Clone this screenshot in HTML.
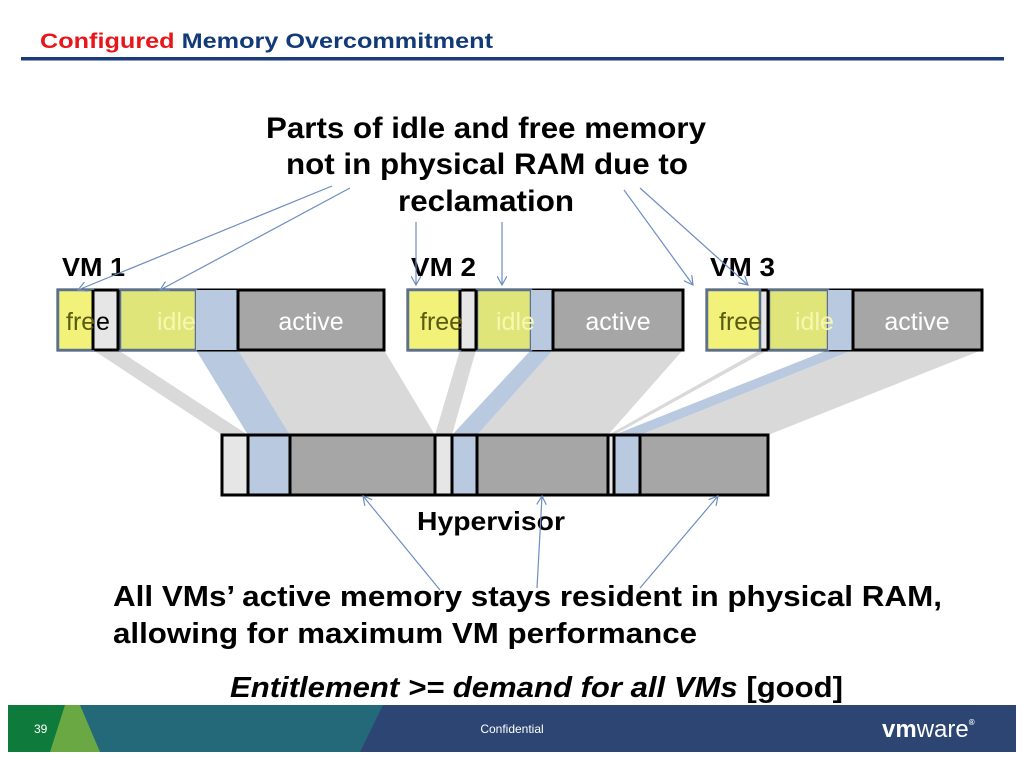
<!DOCTYPE html>
<html><head><meta charset="utf-8"><style>html,body{margin:0;padding:0;background:#fff}svg{display:block}</style></head>
<body>
<svg width="1024" height="768" viewBox="0 0 1024 768" xmlns="http://www.w3.org/2000/svg" font-family="Liberation Sans, Arial, sans-serif">
<defs><marker id="a" markerWidth="10" markerHeight="10" refX="9" refY="5" orient="auto" markerUnits="userSpaceOnUse"><path d="M0,0 L9,5 L0,10" fill="none" stroke="#6d8dc0" stroke-width="1.2"/></marker></defs>
<text x="40" y="48" font-size="21" font-weight="bold" textLength="453" lengthAdjust="spacingAndGlyphs"><tspan fill="#e8161b">Configured</tspan><tspan fill="#123a78"> Memory Overcommitment</tspan></text>
<rect x="21" y="57" width="983" height="3.5" fill="#1a3c78"/>
<g fill="#d9d9d9">
<polygon points="93,350 118,350 248,435 222,435"/>
<polygon points="238,350 384,350 435,435 290,435"/>
<polygon points="460,350 476,350 452,435 435,435"/>
<polygon points="553,350 683,350 608,435 477,435"/>
<polygon points="760,350 768,350 614,435 608,435"/>
<polygon points="853,350 982,350 768,435 640,435"/>
</g>
<g fill="#b8c9e0">
<polygon points="196,350 238,350 290,435 248,435"/>
<polygon points="531,350 553,350 477,435 452,435"/>
<polygon points="828,350 853,350 640,435 614,435"/>
</g>
<g stroke="#000" stroke-width="3">
<rect x="58" y="290" width="326" height="60" fill="#e6e6e6"/>
<rect x="408" y="290" width="275" height="60" fill="#e6e6e6"/>
<rect x="707" y="290" width="275" height="60" fill="#e6e6e6"/>
</g>
<g stroke="#5a7090" stroke-width="2.5">
<rect x="58" y="290" width="35" height="60" fill="#f2f27a"/>
<rect x="120" y="290" width="76" height="60" fill="#e0e57a"/>
<rect x="408" y="290" width="52" height="60" fill="#f2f27a"/>
<rect x="477" y="290" width="54" height="60" fill="#e0e57a"/>
<rect x="707" y="290" width="53" height="60" fill="#f2f27a"/>
<rect x="769" y="290" width="59" height="60" fill="#e0e57a"/>
</g>
<g stroke="#000" stroke-width="3">
<rect x="196" y="290" width="42" height="60" fill="#b8c9e0" stroke="none"/>
<rect x="238" y="290" width="146" height="60" fill="#a6a6a6"/>
<rect x="531" y="290" width="22" height="60" fill="#b8c9e0" stroke="none"/>
<rect x="553" y="290" width="130" height="60" fill="#a6a6a6"/>
<rect x="828" y="290" width="25" height="60" fill="#b8c9e0" stroke="none"/>
<rect x="853" y="290" width="129" height="60" fill="#a6a6a6"/>
<line x1="118" y1="290" x2="118" y2="350"/><line x1="93" y1="290" x2="93" y2="350"/>
<line x1="460" y1="290" x2="460" y2="350"/><line x1="476" y1="290" x2="476" y2="350"/>
<line x1="768" y1="290" x2="768" y2="350"/>
</g>
<g font-size="25" fill="#fff">
<text x="66" y="330" fill="#5a5a10">fre</text><text x="96" y="330" fill="#000">e</text>
<text x="157" y="330" fill="#f7f7b0">idle</text>
<text x="311" y="330" text-anchor="middle">active</text>
<text x="420" y="330" fill="#5a5a10">free</text>
<text x="496" y="330" fill="#f7f7b0">idle</text>
<text x="618" y="330" text-anchor="middle">active</text>
<text x="719" y="330" fill="#5a5a10">free</text>
<text x="795" y="330" fill="#f7f7b0">idle</text>
<text x="917" y="330" text-anchor="middle">active</text>
</g>
<g stroke="#000" stroke-width="3">
<rect x="222" y="435" width="546" height="60" fill="#a6a6a6"/>
<rect x="222" y="435" width="26" height="60" fill="#e6e6e6"/>
<rect x="248" y="435" width="42" height="60" fill="#b8c9e0"/>
<rect x="435" y="435" width="17" height="60" fill="#e6e6e6"/>
<rect x="452" y="435" width="25" height="60" fill="#b8c9e0"/>
<rect x="608" y="435" width="6" height="60" fill="#e6e6e6"/>
<rect x="614" y="435" width="26" height="60" fill="#b8c9e0"/>
</g>
<g font-weight="bold" fill="#000">
<text x="62" y="276" font-size="26" textLength="63" lengthAdjust="spacingAndGlyphs">VM 1</text>
<text x="411" y="276" font-size="26" textLength="65" lengthAdjust="spacingAndGlyphs">VM 2</text>
<text x="710" y="276" font-size="26" textLength="65" lengthAdjust="spacingAndGlyphs">VM 3</text>
<text x="266" y="138" font-size="30" textLength="440" lengthAdjust="spacingAndGlyphs">Parts of idle and free memory</text>
<text x="286" y="174" font-size="30" textLength="402" lengthAdjust="spacingAndGlyphs">not in physical RAM due to</text>
<text x="398" y="211" font-size="30" textLength="176" lengthAdjust="spacingAndGlyphs">reclamation</text>
<text x="417" y="530" font-size="26" textLength="148" lengthAdjust="spacingAndGlyphs">Hypervisor</text>
<text x="113" y="606" font-size="29" textLength="829" lengthAdjust="spacingAndGlyphs">All VMs’ active memory stays resident in physical RAM,</text>
<text x="113" y="643" font-size="29" textLength="584" lengthAdjust="spacingAndGlyphs">allowing for maximum VM performance</text>
<text x="230" y="697" font-size="29" textLength="613" lengthAdjust="spacingAndGlyphs"><tspan font-style="italic">Entitlement &gt;= demand for all VMs</tspan> [good]</text>
</g>
<g stroke="#6d8dc0" stroke-width="1.2" fill="none" marker-end="url(#a)">
<line x1="332" y1="186" x2="78" y2="290"/>
<line x1="350" y1="188" x2="160" y2="290"/>
<line x1="416" y1="222" x2="416" y2="285"/>
<line x1="502" y1="222" x2="502" y2="285"/>
<line x1="624" y1="190" x2="693" y2="285"/>
<line x1="640" y1="188" x2="748" y2="285"/>
<line x1="440" y1="590" x2="363" y2="496"/>
<line x1="537" y1="588" x2="542" y2="496"/>
<line x1="640" y1="588" x2="718" y2="496"/>
</g>
<rect x="8" y="705" width="1008" height="47" fill="#24697a"/>
<polygon points="8,705 70,705 50,752 8,752" fill="#0e7b3c"/>
<polygon points="65,705 80,705 100,752 50,752" fill="#6aa843"/>
<polygon points="383,705 1016,705 1016,752 360,752" fill="#2d4572"/>
<text x="34" y="733" font-size="12" fill="#fff">39</text>
<text x="512" y="733" font-size="12" fill="#fff" text-anchor="middle">Confidential</text>
<text x="882" y="737" font-size="24" fill="#fff" font-weight="bold">vm<tspan font-weight="normal">ware</tspan><tspan font-size="8" dy="-12">®</tspan></text>
</svg>
</body></html>
